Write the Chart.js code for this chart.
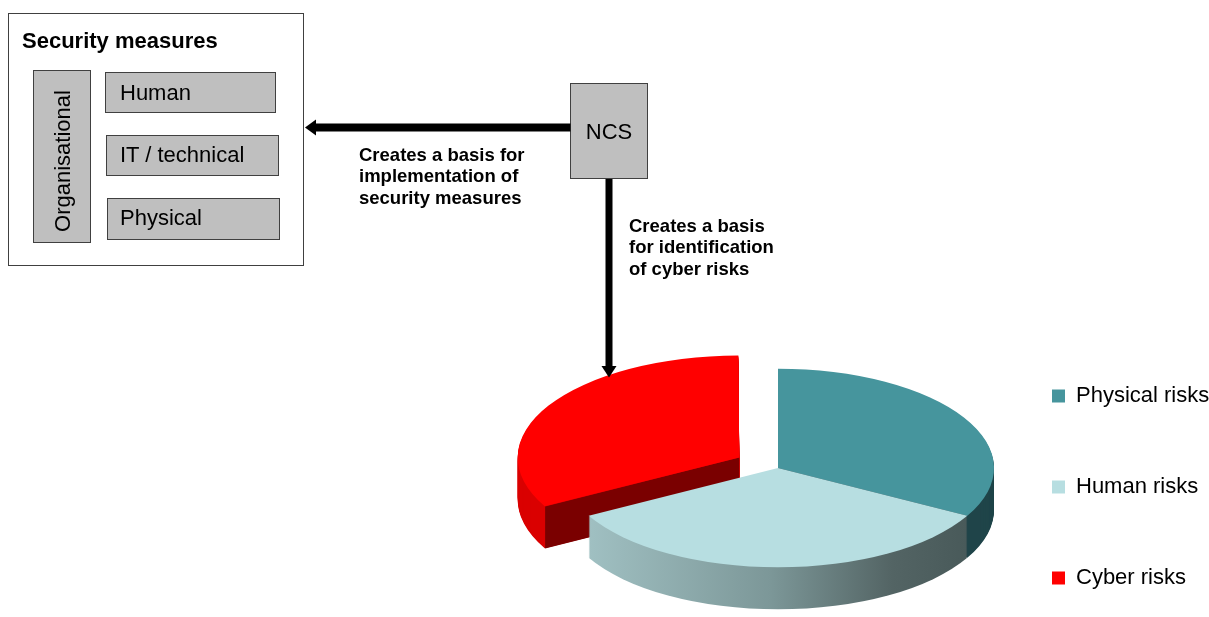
<!DOCTYPE html>
<html>
<head>
<meta charset="utf-8">
<script src="https://cdn.jsdelivr.net/npm/chart.js@4.4.1/dist/chart.umd.min.js"></script>
<style>
html,body{margin:0;padding:0;background:#fff;overflow:hidden;width:1209px;height:617px;}
#wrap{position:relative;width:1209px;height:617px;overflow:hidden;}
#pie{position:absolute;left:0;top:0;}
#overlay{position:absolute;left:0;top:0;}
svg text{font-family:Arial,"Liberation Sans",sans-serif;fill:#000;}
</style>
</head>
<body>
<div id="wrap">
<canvas id="pie" width="1209" height="760"></canvas>
<svg id="overlay" width="1209" height="617" xmlns="http://www.w3.org/2000/svg">
  <rect x="8.5" y="13.5" width="295" height="252" fill="none" stroke="#404040"/>
  <text x="22" y="47.5" font-size="22" font-weight="bold">Security measures</text>
  <g fill="#BFBFBF" stroke="#404040">
    <rect x="33.5" y="70.5" width="57" height="172"/>
    <rect x="105.5" y="72.5" width="170" height="40"/>
    <rect x="106.5" y="135.5" width="172" height="40"/>
    <rect x="107.5" y="198.5" width="172" height="41"/>
    <rect x="570.5" y="83.5" width="77" height="95"/>
  </g>
  <g font-size="22">
    <text transform="translate(70,161) rotate(-90)" text-anchor="middle">Organisational</text>
    <text x="120" y="100">Human</text>
    <text x="120" y="162">IT / technical</text>
    <text x="120" y="225">Physical</text>
    <text x="609" y="139" text-anchor="middle">NCS</text>
  </g>
  <g fill="#000">
    <rect x="314" y="123.5" width="256.5" height="8"/>
    <polygon points="305,127.5 316,119.5 316,135.5"/>
    <rect x="605.5" y="179" width="7" height="188"/>
    <polygon points="601.5,366 616.5,366 609,377.5"/>
  </g>
  <g font-size="18.5" font-weight="bold">
    <text x="359" y="160.5">Creates a basis for</text>
    <text x="359" y="182">implementation of</text>
    <text x="359" y="203.5">security measures</text>
    <text x="629" y="231.5">Creates a basis</text>
    <text x="629" y="253">for identification</text>
    <text x="629" y="274.5">of cyber risks</text>
  </g>
</svg>
</div>
<script>
// ---- chart data ----
const categories = ['Physical risks', 'Human risks', 'Cyber risks'];
const shares = [33, 34, 33];
const topColors = ['#46959D', '#B7DEE1', '#FF0000'];

// ---- 3D look ----
const TILT = 0.46;     // vertical squash of the pie disc
const DEPTH = 42;      // thickness of the disc in px
const TOP_Y = 468;     // screen y of the disc centre

const pie3d = {
  id: 'pie3d',
  beforeDatasetsDraw(chart) {
    const ctx = chart.ctx;
    const arcs = chart.getDatasetMeta(0).data;
    const cx = arcs[0].x, cy = arcs[0].y, R = arcs[0].outerRadius;
    const project = () => { ctx.translate(0, TOP_Y); ctx.scale(1, TILT); ctx.translate(0, -cy); };
    const grad = ctx.createLinearGradient(cx - R * 0.88, 0, cx + R, 0);
    grad.addColorStop(0, '#A0C0C2');
    grad.addColorStop(0.45, '#7C9798');
    grad.addColorStop(0.75, '#536464');
    grad.addColorStop(1, '#455656');
    const sideFills = ['#1F4449', grad, '#DA0000'];
    [2, 0, 1].forEach(i => {
      const arc = arcs[i];
      const ghost = Object.create(arc);
      ghost.options = Object.assign({}, arc.options, { backgroundColor: sideFills[i], borderWidth: 0 });
      for (let d = DEPTH; d >= 1; d--) {
        ctx.save();
        ctx.translate(0, d);
        project();
        arc.draw.call(ghost, ctx);
        ctx.restore();
      }
      if (i === 2) {
        const o = (arc.options.offset || 0) / 4;
        const h = (arc.startAngle + arc.endAngle) / 2;
        const circ = arc.endAngle - arc.startAngle;
        const Rp = arc.outerRadius + o * (1 - Math.sin(Math.min(Math.PI, circ)));
        const ax = arc.x + Math.cos(h) * o, ay = arc.y + Math.sin(h) * o;
        const rx = ax + Math.cos(arc.startAngle) * Rp, ry = ay + Math.sin(arc.startAngle) * Rp;
        const P = (x, y) => [x, TOP_Y + (y - cy) * TILT];
        const a = P(ax, ay), r = P(rx, ry);
        ctx.save();
        ctx.fillStyle = '#7A0000';
        ctx.beginPath();
        ctx.moveTo(a[0], a[1]);
        ctx.lineTo(r[0], r[1]);
        ctx.lineTo(r[0], r[1] + DEPTH);
        ctx.lineTo(a[0], a[1] + DEPTH);
        ctx.closePath();
        ctx.fill();
        ctx.restore();
      }
    });
    ctx.save();
    project();
  },
  afterDatasetsDraw(chart) {
    chart.ctx.restore();
  }
};

new Chart(document.getElementById('pie'), {
  type: 'pie',
  data: {
    labels: categories,
    datasets: [{
      data: shares,
      backgroundColor: topColors,
      borderWidth: 0,
      offset: [0, 0, 180],
      radius: 216,
      clip: false
    }]
  },
  options: {
    responsive: false,
    animation: false,
    events: [],
    layout: { padding: { left: 573, top: 250, right: 0, bottom: 36 } },
    plugins: {
      tooltip: { enabled: false },
      legend: {
        position: 'right',
        align: 'center',
        maxWidth: 226,
        labels: {
          boxWidth: 13,
          boxHeight: 13,
          padding: 69,
          color: '#000',
          font: { family: 'Arial, "Liberation Sans", sans-serif', size: 22 }
        }
      }
    }
  },
  plugins: [pie3d]
});
</script>
</body>
</html>
